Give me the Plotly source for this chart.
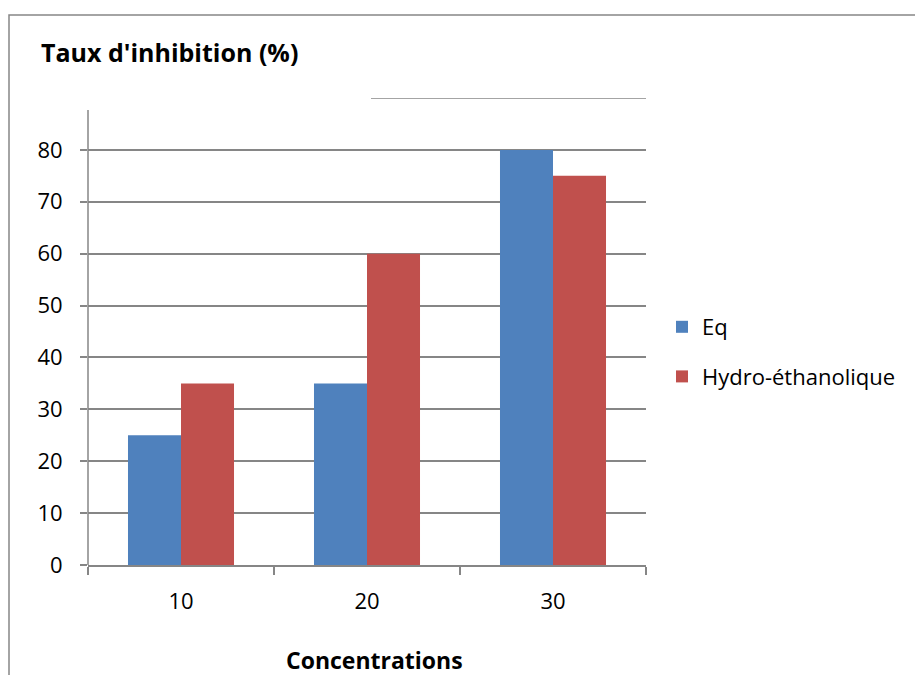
import plotly.graph_objects as go

# Data
concentrations = ["10", "20", "30"]
eq_values = [25, 35, 80]
hydro_values = [35, 60, 75]
series_names = ["Eq", "Hydro-éthanolique"]
y_ticks = [0, 10, 20, 30, 40, 50, 60, 70, 80]

BLUE = "#4F81BD"
RED = "#C0504D"
GRID = "#868686"
FONT = "Open Sans"

W, H = 915, 675
L, R, T, B = 88, 269, 98, 110
pw, ph = W - L - R, H - T - B


def px_x(x):
    return (x - L) / pw


def px_y(y):
    return (H - B - y) / ph


fig = go.Figure()
fig.add_trace(go.Bar(x=concentrations, y=eq_values, name=series_names[0],
                     marker=dict(color=BLUE, line=dict(width=0)),
                     legendgroup="a"))
fig.add_trace(go.Bar(x=concentrations, y=hydro_values, name=series_names[1],
                     marker=dict(color=RED, line=dict(width=0)),
                     legendgroup="b"))

shapes = [
    # chart frame
    dict(type="rect", xref="paper", yref="paper",
         x0=px_x(9), x1=px_x(940), y0=px_y(700), y1=px_y(15),
         line=dict(color=GRID, width=1.5), layer="below"),
    # top gridline, partly hidden behind the title area
    dict(type="line", xref="paper", yref="y",
         x0=px_x(371), x1=1, y0=90, y1=90,
         line=dict(color=GRID, width=1.6)),
    # vertical value axis line
    dict(type="line", xref="paper", yref="paper",
         x0=0, x1=0, y0=0, y1=px_y(110),
         line=dict(color=GRID, width=1.5)),
]

fig.update_layout(
    width=W, height=H,
    margin=dict(l=L, r=R, t=T, b=B),
    paper_bgcolor="white", plot_bgcolor="white",
    barmode="group", bargap=0.43, bargroupgap=0,
    font=dict(family=FONT, color="black", size=22),
    shapes=shapes,
    showlegend=True,
    legend=dict(x=px_x(662), y=px_y(306), xanchor="left", yanchor="top",
                font=dict(size=22, family=FONT), tracegroupgap=18,
                itemwidth=30, bgcolor="rgba(0,0,0,0)"),
    annotations=[
        dict(text="<b>Taux d'inhibition (%)</b>", xref="paper", yref="paper",
             x=px_x(39), y=px_y(52), xanchor="left", yanchor="middle",
             showarrow=False, font=dict(size=25, family=FONT)),
        dict(text="<b>Concentrations</b>", xref="paper", yref="paper",
             x=px_x(374), y=px_y(660), xanchor="center", yanchor="middle",
             showarrow=False, font=dict(size=23, family=FONT)),
    ],
)

fig.update_xaxes(
    type="category", showline=True, linecolor=GRID, linewidth=1.5,
    ticks="outside", tickson="boundaries", ticklen=8, tickcolor=GRID,
    tickwidth=1.5, showgrid=False, ticklabelstandoff=16,
    tickfont=dict(size=22, family=FONT),
)
fig.update_yaxes(
    range=[0, 90], tickvals=y_ticks, showline=False,
    showgrid=True, gridcolor=GRID, gridwidth=1.5,
    ticks="outside", ticklen=7, tickcolor=GRID, tickwidth=1.5,
    zeroline=False, ticklabelstandoff=13,
    tickfont=dict(size=22, family=FONT),
)

fig.write_html("out.html")
